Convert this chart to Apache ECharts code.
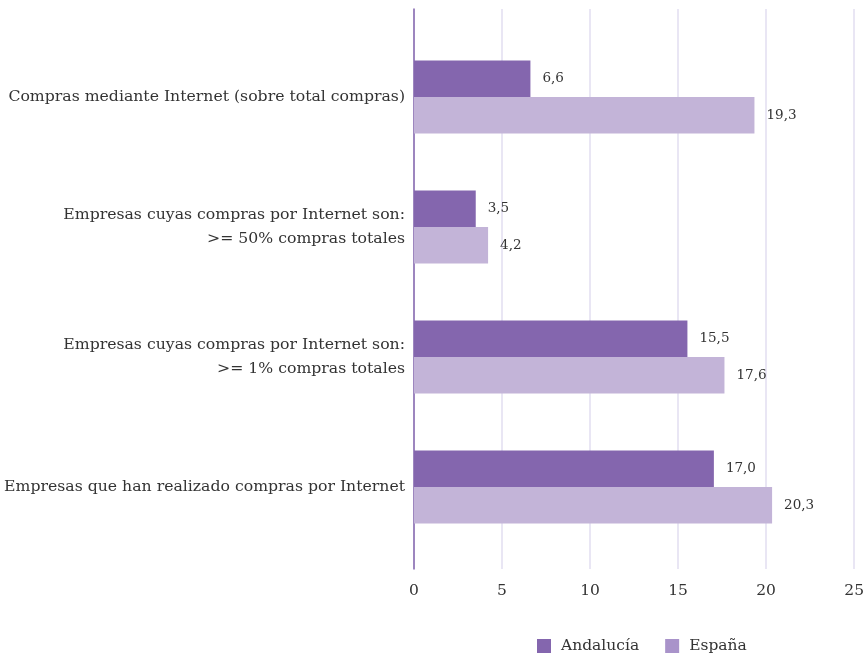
<!DOCTYPE html>
<html>
<head>
<meta charset="utf-8">
<script src="https://cdn.jsdelivr.net/npm/echarts@6/dist/echarts.min.js"></script>
<style>html,body{margin:0;padding:0;background:#fff}#c{width:867px;height:654px}</style>
</head>
<body>
<div id="c"></div>
<script>
var categories = [
  "Compras mediante Internet (sobre total compras)",
  "Empresas cuyas compras por Internet son:\n>= 50% compras totales",
  "Empresas cuyas compras por Internet son:\n>= 1% compras totales",
  "Empresas que han realizado compras por Internet"
];
var seriesNames = ["Andalucía", "España"];
var andalucia = [6.6, 3.5, 15.5, 17.0];
var espana = [19.3, 4.2, 17.6, 20.3];
var xTicks = [0, 5, 10, 15, 20, 25];

var FONT = "DejaVu Serif";
var chart = echarts.init(document.getElementById('c'), null, {renderer: 'canvas'});
function fmt(p){ return p.value.toFixed(1).replace('.', ','); }
chart.setOption({
  animation: false,
  textStyle: {fontFamily: FONT},
  grid: [
    {left: 414, right: 12, top: 9, bottom: 85},
    {left: 414, right: 12, top: 32, bottom: 102}
  ],
  xAxis: [
    {gridIndex: 0, type: 'value', min: xTicks[0], max: xTicks[xTicks.length-1], interval: 5,
     axisLine: {show: false}, axisTick: {show: false},
     axisLabel: {color: '#333', fontFamily: FONT, fontSize: 15.5, margin: 14},
     splitLine: {show: true, lineStyle: {color: '#e2def0', width: 1.5}}},
    {gridIndex: 1, type: 'value', min: 0, max: 25, interval: 5, show: false}
  ],
  yAxis: [
    {gridIndex: 0, type: 'value', min: 0, max: 1,
     axisLine: {show: true, lineStyle: {color: '#8466ae', width: 1.5}},
     axisTick: {show: false}, axisLabel: {show: false}, splitLine: {show: false}},
    {gridIndex: 1, type: 'category', data: categories, inverse: true,
     axisLine: {show: false}, axisTick: {show: false}, splitLine: {show: false},
     axisLabel: {color: '#333', fontFamily: FONT, fontSize: 15.7, margin: 9, align: 'right', lineHeight: 24}}
  ],
  legend: {
    top: 633, left: 532, itemWidth: 14, itemHeight: 14, itemGap: 26, icon: 'rect',
    textStyle: {color: '#333', fontFamily: FONT, fontSize: 15.5, padding: [0, 0, 0, 5]},
    data: [
      {name: seriesNames[0], itemStyle: {color: '#8466ae'}},
      {name: seriesNames[1], itemStyle: {color: '#a993ca'}}
    ]
  },
  series: [
    {name: seriesNames[0], type: 'bar', xAxisIndex: 1, yAxisIndex: 1, data: andalucia,
     barWidth: '28%', barGap: '0%', itemStyle: {color: '#8466ae'},
     label: {show: true, position: 'right', distance: 12, color: '#333', fontFamily: FONT, fontSize: 13.5, formatter: fmt}},
    {name: seriesNames[1], type: 'bar', xAxisIndex: 1, yAxisIndex: 1, data: espana,
     barWidth: '28%', barGap: '0%', itemStyle: {color: '#c3b4d8'},
     label: {show: true, position: 'right', distance: 12, color: '#333', fontFamily: FONT, fontSize: 13.5, formatter: fmt}}
  ]
});
</script>
</body>
</html>
